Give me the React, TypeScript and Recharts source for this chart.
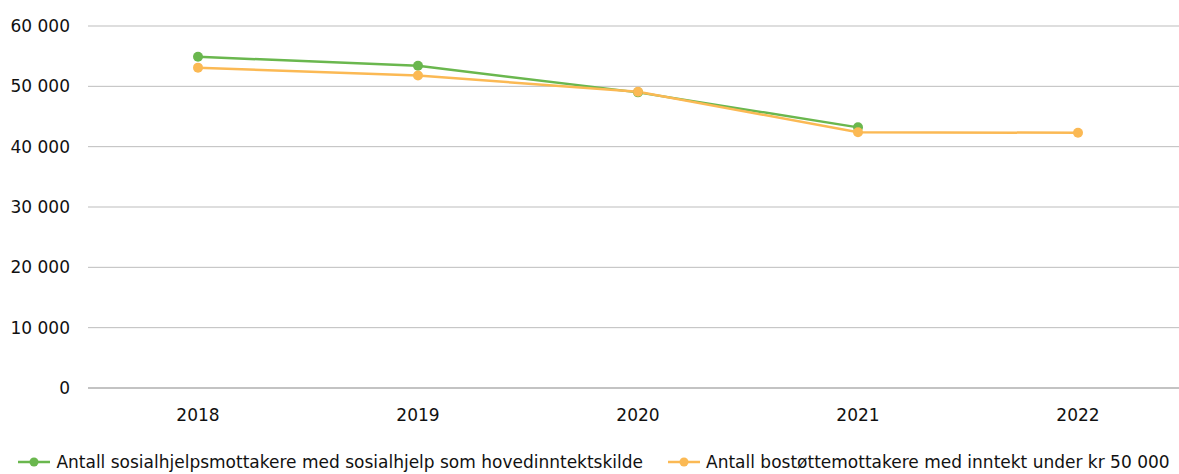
import React from 'react';
import { LineChart, Line, XAxis, YAxis, CartesianGrid, Legend } from 'recharts';

const years = ['2018', '2019', '2020', '2021', '2022'];
const sosialhjelp = [54900, 53400, 49000, 43200, null];
const bostotte = [53100, 51800, 49100, 42400, 42300];
const yTicks = [0, 10000, 20000, 30000, 40000, 50000, 60000];

const seriesNames = {
  sosialhjelp: 'Antall sosialhjelpsmottakere med sosialhjelp som hovedinntektskilde',
  bostotte: 'Antall bostøttemottakere med inntekt under kr 50 000',
};
const seriesOrder = ['sosialhjelp', 'bostotte'];

const GREEN = '#6ab74e';
const ORANGE = '#fbb954';
const FONT = '"DejaVu Sans", "Liberation Sans", Arial, sans-serif';

const data = years.map((year, i) => ({
  year,
  sosialhjelp: sosialhjelp[i],
  bostotte: bostotte[i],
}));

const fmt = (v: number) => String(v).replace(/\B(?=(\d{3})+(?!\d))/g, ' ');

function LegendContent({ payload }: any) {
  const items = [...(payload || [])].sort(
    (a: any, b: any) => seriesOrder.indexOf(a.dataKey) - seriesOrder.indexOf(b.dataKey)
  );
  return (
    <div
      style={{
        display: 'flex',
        justifyContent: 'center',
        gap: 25,
        fontFamily: FONT,
        fontSize: 17,
        lineHeight: '20px',
        color: '#111',
        paddingBottom: 2,
      }}
    >
      {items.map((p: any) => (
        <div key={p.dataKey} style={{ display: 'flex', alignItems: 'center', gap: 6 }}>
          <svg width={32} height={12}>
            <line x1={0} y1={6} x2={32} y2={6} stroke={p.color} strokeWidth={2.5} />
            <circle cx={16} cy={6} r={4.5} fill={p.color} />
          </svg>
          <span>{p.value}</span>
        </div>
      ))}
    </div>
  );
}

export default function App() {
  return (
    <div style={{ position: 'absolute', left: 0, top: 0, width: 1179, height: 474, overflow: 'hidden', background: '#fff' }}>
      <LineChart width={1188} height={474} data={data} margin={{ top: 26, right: 0, bottom: 0, left: 0 }}>
        <CartesianGrid vertical={false} stroke="#bdbdbd" strokeWidth={1} />
        <XAxis
          dataKey="year"
          axisLine={{ stroke: '#a8a8a8' }}
          tickLine={false}
          tickMargin={15}
          height={64}
          padding={{ left: 110, right: 110 }}
          interval={0}
          tick={{ fontSize: 17, fill: '#111', fontFamily: FONT }}
        />
        <YAxis
          domain={[0, 60000]}
          ticks={yTicks}
          width={88}
          axisLine={false}
          tickLine={false}
          tickMargin={12}
          tickFormatter={fmt}
          tick={{ fontSize: 17, fill: '#111', fontFamily: FONT }}
        />
        <Legend verticalAlign="bottom" content={<LegendContent />} />
        <Line
          type="linear"
          dataKey="sosialhjelp"
          name={seriesNames.sosialhjelp}
          stroke={GREEN}
          strokeWidth={2.5}
          dot={{ r: 5, fill: GREEN, stroke: GREEN, strokeWidth: 0 }}
          isAnimationActive={false}
        />
        <Line
          type="linear"
          dataKey="bostotte"
          name={seriesNames.bostotte}
          stroke={ORANGE}
          strokeWidth={2.5}
          dot={{ r: 5, fill: ORANGE, stroke: ORANGE, strokeWidth: 0 }}
          isAnimationActive={false}
        />
      </LineChart>
    </div>
  );
}
